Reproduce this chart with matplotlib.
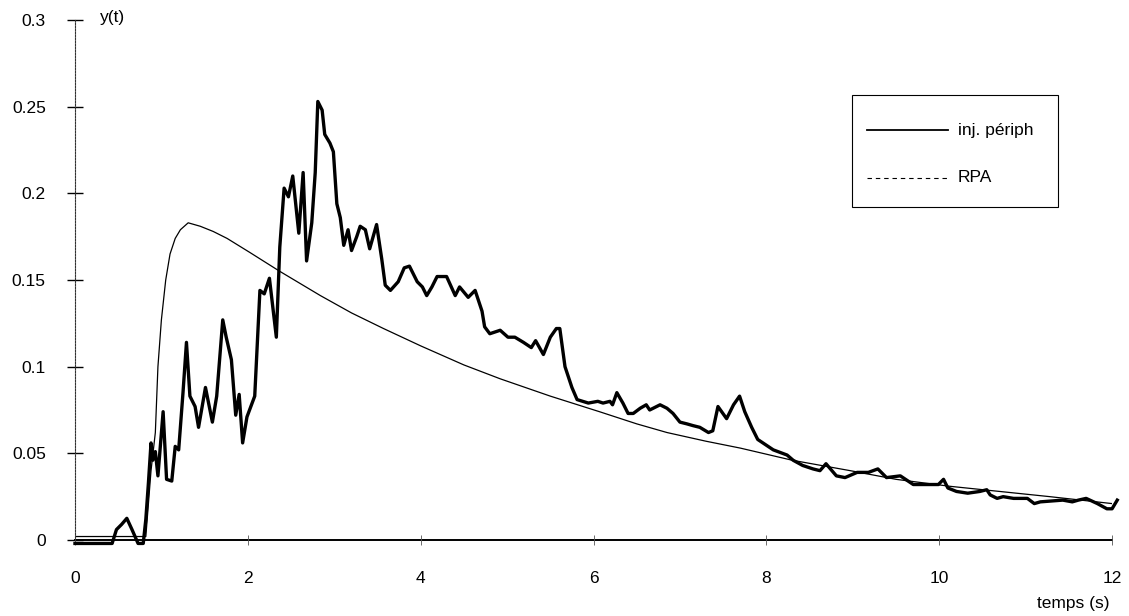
import matplotlib
matplotlib.use("Agg")
import matplotlib.pyplot as plt
from matplotlib.lines import Line2D
from matplotlib.patches import Rectangle

plt.rcParams["font.family"] = ["Liberation Sans", "DejaVu Sans"]

# inj. périph (measured, noisy)
t_inj = [0.0, 0.43, 0.48, 0.54, 0.6, 0.66, 0.73, 0.79, 0.82, 0.85, 0.88, 0.9, 0.93, 0.96,
         1.02, 1.06, 1.12, 1.16, 1.2, 1.25, 1.29, 1.33, 1.39, 1.43, 1.51, 1.59, 1.64, 1.71,
         1.75, 1.81, 1.86, 1.9, 1.94, 1.99, 2.08, 2.14, 2.19, 2.25, 2.33, 2.37, 2.42, 2.47,
         2.52, 2.59, 2.64, 2.68, 2.74, 2.78, 2.81, 2.86, 2.89, 2.95, 2.99, 3.03, 3.07, 3.11,
         3.16, 3.2, 3.26, 3.3, 3.36, 3.41, 3.49, 3.55, 3.59, 3.65, 3.74, 3.81, 3.87, 3.96,
         4.02, 4.07, 4.13, 4.19, 4.3, 4.4, 4.45, 4.55, 4.63, 4.71, 4.74, 4.8, 4.92, 5.01,
         5.09, 5.19, 5.28, 5.33, 5.42, 5.5, 5.57, 5.61, 5.67, 5.75, 5.81, 5.94, 6.05, 6.11,
         6.19, 6.22, 6.27, 6.34, 6.4, 6.46, 6.54, 6.61, 6.65, 6.77, 6.85, 6.92, 7.0, 7.08,
         7.15, 7.23, 7.33, 7.38, 7.44, 7.54, 7.62, 7.69, 7.75, 7.83, 7.9, 8.08, 8.24, 8.31,
         8.42, 8.54, 8.62, 8.69, 8.81, 8.91, 9.05, 9.18, 9.29, 9.39, 9.55, 9.7, 9.81, 9.99,
         10.05, 10.1, 10.2, 10.33, 10.47, 10.55, 10.59, 10.67, 10.74, 10.86, 11.02, 11.1,
         11.17, 11.43, 11.54, 11.61, 11.7, 11.83, 11.94, 12.0, 12.06]
y_inj = [-0.002, -0.002, 0.006, 0.009, 0.0125, 0.006, -0.002, -0.002, 0.012, 0.033, 0.056,
         0.046, 0.051, 0.037, 0.074, 0.035, 0.034, 0.054, 0.052, 0.085, 0.114, 0.083, 0.077,
         0.065, 0.088, 0.068, 0.083, 0.127, 0.117, 0.104, 0.072, 0.084, 0.056, 0.071, 0.083,
         0.144, 0.142, 0.151, 0.117, 0.169, 0.203, 0.198, 0.21, 0.177, 0.212, 0.161, 0.183,
         0.212, 0.253, 0.248, 0.234, 0.229, 0.224, 0.194, 0.186, 0.17, 0.179, 0.167, 0.175,
         0.181, 0.179, 0.168, 0.182, 0.162, 0.147, 0.144, 0.149, 0.157, 0.158, 0.149, 0.146,
         0.141, 0.146, 0.152, 0.152, 0.141, 0.146, 0.14, 0.144, 0.132, 0.123, 0.119, 0.121,
         0.117, 0.117, 0.114, 0.111, 0.115, 0.107, 0.117, 0.122, 0.122, 0.1, 0.088, 0.081,
         0.079, 0.08, 0.079, 0.08, 0.078, 0.085, 0.079, 0.073, 0.073, 0.076, 0.078, 0.075,
         0.078, 0.076, 0.073, 0.068, 0.067, 0.066, 0.065, 0.062, 0.063, 0.077, 0.07, 0.078,
         0.083, 0.074, 0.065, 0.058, 0.052, 0.049, 0.046, 0.043, 0.041, 0.04, 0.044, 0.037,
         0.036, 0.039, 0.039, 0.041, 0.036, 0.037, 0.032, 0.032, 0.032, 0.035, 0.03, 0.028,
         0.027, 0.028, 0.029, 0.026, 0.024, 0.025, 0.024, 0.024, 0.021, 0.022, 0.023, 0.022,
         0.023, 0.024, 0.021, 0.018, 0.018, 0.023]

# RPA (model curve)
t_rpa = [0.0, 0.82, 0.85, 0.88, 0.93, 0.96, 1.0, 1.05, 1.1, 1.16, 1.22, 1.31, 1.45, 1.6,
         1.76, 2.02, 2.37, 2.84, 3.2, 3.57, 4.0, 4.5, 4.92, 5.5, 6.07, 6.5, 6.85, 7.3, 7.7,
         8.3, 8.97, 9.5, 10.12, 10.7, 11.28, 12.0]
y_rpa = [0.002, 0.002, 0.021, 0.04, 0.062, 0.1, 0.127, 0.15, 0.165, 0.174, 0.179, 0.183,
         0.181, 0.178, 0.174, 0.166, 0.155, 0.141, 0.131, 0.122, 0.112, 0.101, 0.093,
         0.083, 0.074, 0.067, 0.062, 0.057, 0.053, 0.046, 0.040, 0.035, 0.031, 0.028,
         0.025, 0.021]

xticks = [0, 2, 4, 6, 8, 10, 12]
yticks = [0, 0.05, 0.1, 0.15, 0.2, 0.25, 0.3]
ytick_labels = ["0", "0.05", "0.1", "0.15", "0.2", "0.25", "0.3"]

fig = plt.figure(figsize=(11.29, 6.16), dpi=100)
ax = fig.add_axes([0.0664, 0.1234, 0.9186, 0.8441])

ax.plot(t_rpa, y_rpa, color="black", lw=0.9)
ax.plot(t_inj, y_inj, color="black", lw=2.4, solid_joinstyle="round", clip_on=False)

ax.set_xlim(0, 12)
ax.set_ylim(0, 0.3)
ax.set_xticks(xticks)
ax.set_yticks(yticks)
ax.set_yticklabels(ytick_labels)

for s in ["top", "right"]:
    ax.spines[s].set_visible(False)
ax.spines["left"].set_linestyle((0, (1.5, 1.2)))
ax.spines["left"].set_linewidth(0.8)
ax.spines["left"].set_color("#333333")
ax.spines["bottom"].set_linewidth(1.4)
ax.spines["bottom"].set_zorder(1)

ax.tick_params(axis="y", direction="inout", length=11, width=1.0, pad=15.5,
               labelsize=12.5)
ax.tick_params(axis="x", direction="inout", length=7, width=0.6, color="#555555",
               pad=19, labelsize=12.5)

ax.text(0.024, 1.004, "y(t)", transform=ax.transAxes, fontsize=12.5,
        ha="left", va="center")
fig.text(0.983, 0.021, "temps (s)", fontsize=12.5, ha="right", va="center")

# legend box
ax.add_patch(Rectangle((0.749, 0.640), 0.199, 0.216, transform=ax.transAxes,
                       fill=False, edgecolor="black", lw=0.8, zorder=5))
ax.add_line(Line2D([0.764, 0.842], [0.788, 0.788], transform=ax.transAxes,
                   color="black", lw=1.3, zorder=5))
ax.add_line(Line2D([0.764, 0.842], [0.697, 0.697], transform=ax.transAxes,
                   color="black", lw=0.8, dashes=(4, 3.5), zorder=5))
ax.text(0.851, 0.788, "inj. périph", transform=ax.transAxes, fontsize=12.5,
        ha="left", va="center")
ax.text(0.851, 0.697, "RPA", transform=ax.transAxes, fontsize=12.5,
        ha="left", va="center")

fig.savefig("out.png", dpi=100)
